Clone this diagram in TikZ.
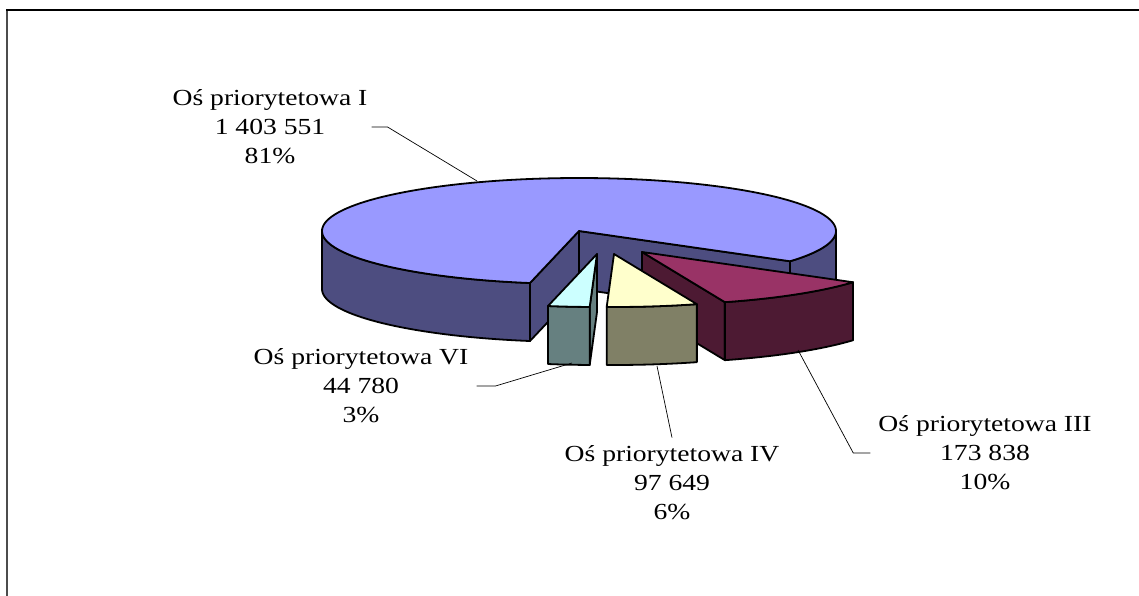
\documentclass[tikz,border=0pt]{standalone}
\usepackage{fontspec}
\setmainfont{Liberation Serif}[FakeStretch=1.2]
\definecolor{topI}{HTML}{9999FF}
\definecolor{sideI}{HTML}{4D4D80}
\definecolor{topIII}{HTML}{993366}
\definecolor{sideIII}{HTML}{4D1A33}
\definecolor{topIV}{HTML}{FFFFCC}
\definecolor{sideIV}{HTML}{808066}
\definecolor{topVI}{HTML}{CCFFFF}
\definecolor{sideVI}{HTML}{668080}
\tikzset{
  face/.style={draw=black, line width=1.8pt, line join=round},
  leader/.style={draw=black, line width=0.7pt},
  lbl/.style={align=center, inner sep=0pt, font=\fontsize{23}{29}\selectfont}
}
\begin{document}
\begin{tikzpicture}[x=1pt,y=-1pt]
\useasboundingbox (0,0) rectangle (1139,596);
\clip (0,0) rectangle (1139,596);
\fill[white] (0,0) rectangle (1139,596);
% frame
\draw[line width=2pt, black!70] (7,620) -- (7,10);
\draw[line width=1.4pt, black] (6,10) -- (1160,10);

% ---- slice I (not exploded) ----
\coordinate (C) at (579,231);
\coordinate (Cb) at (579,289);
\coordinate (PL) at ({579+257*cos(259)},{231-53*sin(259)});
\coordinate (PLb) at ({579+257*cos(259)},{289-53*sin(259)});
\coordinate (PR) at ({579+257*cos(-34.8)},{231-53*sin(-34.8)});
\coordinate (PRb) at ({579+257*cos(-34.8)},{289-53*sin(-34.8)});
\filldraw[face, fill=sideI] plot[domain=180:259,samples=40] ({579+257*cos(\x)},{231-53*sin(\x)})
  -- plot[domain=259:180,samples=40] ({579+257*cos(\x)},{289-53*sin(\x)}) -- cycle;
\filldraw[face, fill=sideI] plot[domain=-34.8:0,samples=20] ({579+257*cos(\x)},{231-53*sin(\x)})
  -- plot[domain=0:-34.8,samples=20] ({579+257*cos(\x)},{289-53*sin(\x)}) -- cycle;
\filldraw[face, fill=sideI] (C) -- (PL) -- (PLb) -- (Cb) -- cycle;
\filldraw[face, fill=sideI] (C) -- (PR) -- (PRb) -- (Cb) -- cycle;
\filldraw[face, fill=topI] (C) -- plot[domain=-34.8:259,samples=150] ({579+257*cos(\x)},{231-53*sin(\x)}) -- cycle;

% ---- slice III (exploded) ----
\coordinate (A3) at (642,252);
\coordinate (A3b) at (642,310);
\coordinate (Q3) at ({642+257*cos(-71.19)},{252-53*sin(-71.19)});
\coordinate (Q3b) at ({642+257*cos(-71.19)},{310-53*sin(-71.19)});
\filldraw[face, fill=sideIII] (A3) -- (Q3) -- (Q3b) -- (A3b) -- cycle;
\filldraw[face, fill=sideIII] plot[domain=-71.19:-34.8,samples=30] ({642+257*cos(\x)},{252-53*sin(\x)})
  -- plot[domain=-34.8:-71.19,samples=30] ({642+257*cos(\x)},{310-53*sin(\x)}) -- cycle;
\filldraw[face, fill=topIII] (A3) -- plot[domain=-34.8:-71.19,samples=30] ({642+257*cos(\x)},{252-53*sin(\x)}) -- cycle;

% ---- slice IV (exploded) ----
\coordinate (A4) at (614,254);
\filldraw[face, fill=sideIV] plot[domain=-91.63:-71.19,samples=20] ({614+257*cos(\x)},{254-53*sin(\x)})
  -- plot[domain=-71.19:-91.63,samples=20] ({614+257*cos(\x)},{312-53*sin(\x)}) -- cycle;
\filldraw[face, fill=topIV] (A4) -- plot[domain=-71.19:-91.63,samples=20] ({614+257*cos(\x)},{254-53*sin(\x)}) -- cycle;

% ---- slice VI (exploded) ----
\coordinate (A6) at (597,254);
\coordinate (A6b) at (597,312);
\coordinate (Q6) at ({597+257*cos(-91.63)},{254-53*sin(-91.63)});
\coordinate (Q6b) at ({597+257*cos(-91.63)},{312-53*sin(-91.63)});
\filldraw[face, fill=sideVI] (A6) -- (Q6) -- (Q6b) -- (A6b) -- cycle;
\filldraw[face, fill=sideVI] plot[domain=-101:-91.63,samples=10] ({597+257*cos(\x)},{254-53*sin(\x)})
  -- plot[domain=-91.63:-101,samples=10] ({597+257*cos(\x)},{312-53*sin(\x)}) -- cycle;
\filldraw[face, fill=topVI] (A6) -- plot[domain=-91.63:-101,samples=10] ({597+257*cos(\x)},{254-53*sin(\x)}) -- cycle;

% ---- labels ----
\node[lbl] (lI) at (270,127) {Oś priorytetowa I\\1 403 551\\81\%};
\node[lbl] (lVI) at (361,386) {Oś priorytetowa VI\\44 780\\3\%};
\node[lbl] (lIV) at (672,483) {Oś priorytetowa IV\\97 649\\6\%};
\node[lbl] (lIII) at (985,453) {Oś priorytetowa III\\173 838\\10\%};

% ---- leaders ----
\coordinate (eI) at (477,181);
\coordinate (eVI) at (572,363);
\coordinate (eIV) at (657,366);
\coordinate (eIII) at (798,350);
\draw[leader] ([xshift=4pt]lI.east) -- ++(16,0) -- (eI);
\draw[leader] ([xshift=8pt]lVI.east) -- ++(19,0) -- (eVI);
\draw[leader] (eIV) -- ([yshift=8pt]lIV.north);
\draw[leader] (eIII) -- ([xshift=-25pt]lIII.west) -- ([xshift=-8pt]lIII.west);
\end{tikzpicture}
\end{document}
